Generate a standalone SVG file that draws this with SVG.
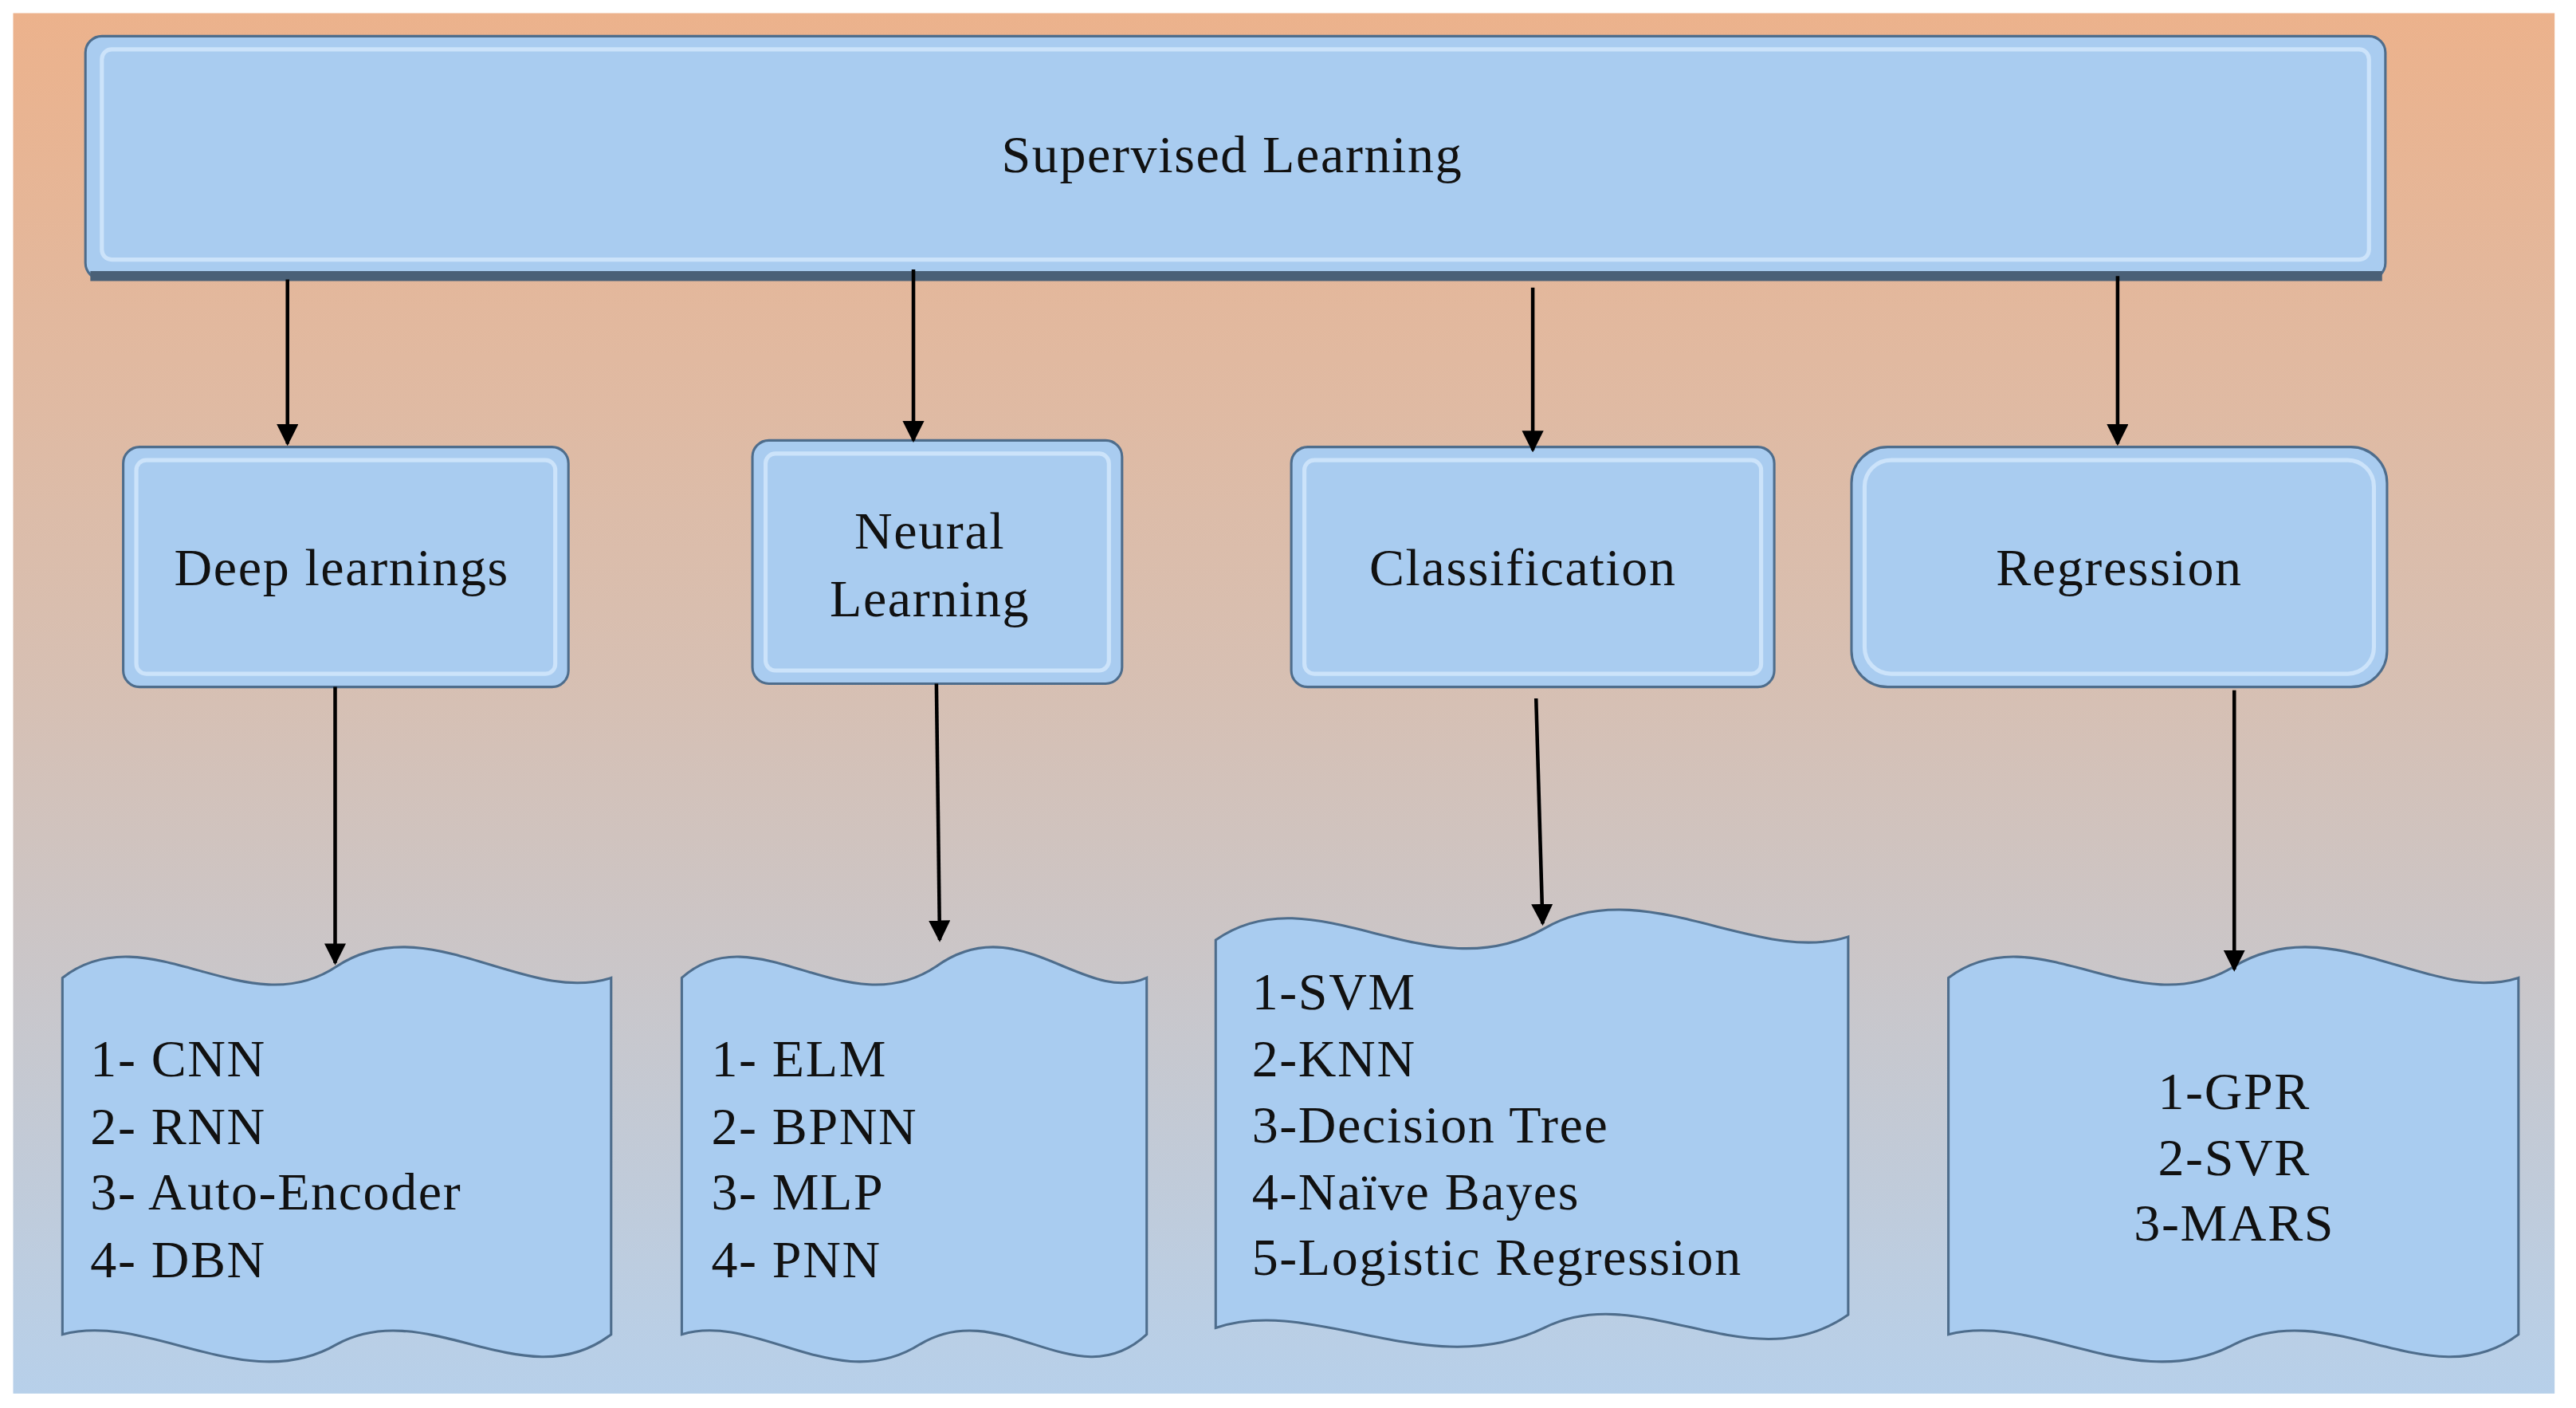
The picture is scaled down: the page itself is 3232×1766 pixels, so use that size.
<svg xmlns="http://www.w3.org/2000/svg" width="3232" height="1766" viewBox="0 0 3232 1766">
<defs>
<linearGradient id="bg" x1="0" y1="0" x2="0" y2="1"><stop offset="0" stop-color="#ecb28c"/><stop offset="0.5" stop-color="#d6c0b4"/><stop offset="1" stop-color="#b7d0ea"/></linearGradient>
<marker id="ah" viewBox="0 0 10 10" refX="9" refY="5" markerWidth="6" markerHeight="6" orient="auto" markerUnits="strokeWidth"><path d="M0,0 L10,5 L0,10 z" fill="#000"/></marker>
<style>
.box{fill:#a9ccf0;stroke:#4e6d8c;stroke-width:1.5}
.inner{fill:none;stroke:#cfe6fb;stroke-width:2.5;opacity:.9}
.t{font-family:"Liberation Serif",serif;font-size:32px;letter-spacing:0.8px;fill:#111}
.c{text-anchor:middle}
.conn{stroke:#000;stroke-width:2.2;fill:none;marker-end:url(#ah)}
</style>
</defs>
<rect width="3232" height="1766" fill="#fff"/>
<g transform="scale(2.0612)">
<rect x="8" y="8" width="1547" height="840" fill="url(#bg)"/>
<g id="root"><rect class="box" x="52" y="22" width="1400" height="148" rx="10"/><rect class="inner" x="62" y="30" width="1380" height="128" rx="6"/><path d="M55,168 L1450,168" stroke="#4a6077" stroke-width="6"/><text class="t c" x="750" y="105">Supervised Learning</text></g>
<g id="deep"><rect class="box" x="75" y="272" width="271" height="146" rx="10"/><rect class="inner" x="83" y="280" width="255" height="130" rx="6"/><text class="t c" x="208" y="356">Deep learnings</text></g>
<g id="neural"><rect class="box" x="458" y="268" width="225" height="148" rx="10"/><rect class="inner" x="466" y="276" width="209" height="132" rx="6"/><text class="t c" x="566" y="334">Neural</text><text class="t c" x="566" y="375">Learning</text></g>
<g id="classification"><rect class="box" x="786" y="272" width="294" height="146" rx="10"/><rect class="inner" x="794" y="280" width="278" height="130" rx="6"/><text class="t c" x="927" y="356">Classification</text></g>
<g id="regression"><rect class="box" x="1127" y="272" width="326" height="146" rx="22"/><rect class="inner" x="1135" y="280" width="310" height="130" rx="16"/><text class="t c" x="1290" y="356">Regression</text></g>
<g id="deepList"><path class="box" d="M38,595 C90,555 150,625 205,588 C260,552 320,612 372,595 L372,812 C320,852 260,788 205,818 C150,850 90,798 38,812 Z"/><text class="t" x="55" y="655">1- CNN</text><text class="t" x="55" y="696">2- RNN</text><text class="t" x="55" y="736">3- Auto-Encoder</text><text class="t" x="55" y="777">4- DBN</text></g>
<g id="neuralList"><path class="box" d="M415,595 C460,555 515,625 570,588 C620,552 660,612 698,595 L698,812 C655,852 610,788 560,818 C510,850 460,798 415,812 Z"/><text class="t" x="433" y="655">1- ELM</text><text class="t" x="433" y="696">2- BPNN</text><text class="t" x="433" y="736">3- MLP</text><text class="t" x="433" y="777">4- PNN</text></g>
<g id="classList"><path class="box" d="M740,572 C800,530 870,605 940,565 C1000,530 1070,588 1125,570 L1125,800 C1065,842 1000,778 940,808 C870,842 800,788 740,808 Z"/><text class="t" x="762" y="614">1-SVM</text><text class="t" x="762" y="655">2-KNN</text><text class="t" x="762" y="695">3-Decision Tree</text><text class="t" x="762" y="736">4-Naïve Bayes</text><text class="t" x="762" y="776">5-Logistic Regression</text></g>
<g id="regList"><path class="box" d="M1186,595 C1240,555 1300,625 1360,588 C1420,552 1480,612 1533,595 L1533,812 C1480,852 1420,788 1360,818 C1300,850 1240,798 1186,812 Z"/><text class="t c" x="1360" y="675">1-GPR</text><text class="t c" x="1360" y="715">2-SVR</text><text class="t c" x="1360" y="755">3-MARS</text></g>
<g id="connectors">
<path class="conn" d="M175,170 L175,270"/>
<path class="conn" d="M556,164 L556,268"/>
<path class="conn" d="M933,175 L933,274"/>
<path class="conn" d="M1289,168 L1289,270"/>
<path class="conn" d="M204,418 L204,586"/>
<path class="conn" d="M570,416 L572,572"/>
<path class="conn" d="M935,425 L939,562"/>
<path class="conn" d="M1360,420 L1360,590"/>
</g>
</g>
</svg>
